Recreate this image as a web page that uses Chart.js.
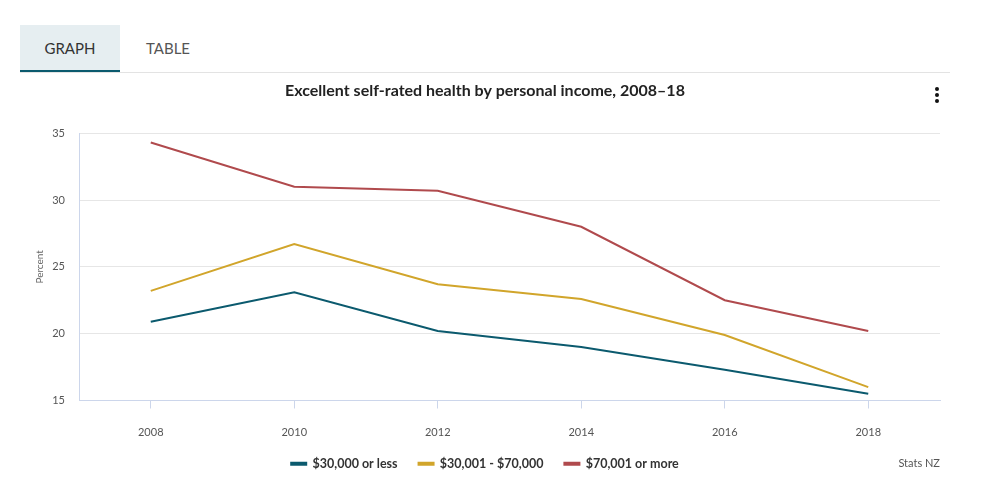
<!DOCTYPE html>
<html>
<head>
<meta charset="utf-8">
<script src="https://cdn.jsdelivr.net/npm/chart.js@4"></script>
<style>
  body { margin: 0; background: #fff; font-family: Lato, "Open Sans", sans-serif; }
  .tabs { position: absolute; left: 20px; top: 25px; width: 930px; height: 47px; border-bottom: 1px solid #e3e3e3; }
  .tab { position: absolute; top: 0; height: 46px; line-height: 46px; font-size: 15px; color: #555; text-align: center; width: 100px; }
  .tab.on { left: 0; background: #e6eef1; color: #333; border-bottom: 2px solid #0b5a6e; height: 45px; }
  .tab.off { left: 98px; }
  .menu { position: absolute; left: 935px; top: 87px; }
  .menu span { display: block; width: 4px; height: 4px; border-radius: 2px; background: #111; margin-bottom: 2px; }
  .credit { position: absolute; right: 42px; top: 456px; font-size: 11px; color: #555; }
  #wrap { position: absolute; left: 0; top: 75px; width: 982px; height: 419px; }
</style>
</head>
<body>
<div class="tabs"><div class="tab on">GRAPH</div><div class="tab off">TABLE</div></div>
<div id="wrap"><canvas id="healthChart"></canvas></div>
<div class="menu"><span></span><span></span><span></span></div>
<div class="credit">Stats NZ</div>
<script>
const years = ['2008', '2010', '2012', '2014', '2016', '2018'];
const lowIncome = [20.9, 23.1, 20.2, 19.0, 17.3, 15.5];
const midIncome = [23.2, 26.7, 23.7, 22.6, 19.9, 16.0];
const highIncome = [34.3, 31.0, 30.7, 28.0, 22.5, 20.2];
const seriesNames = ['$30,000 or less', '$30,001 - $70,000', '$70,001 or more'];
const seriesColors = ['#0b5a6e', '#d1a52b', '#b04a4d'];

const font = 'Lato, "Open Sans", sans-serif';

const ctx = document.getElementById('healthChart').getContext('2d');
const healthChart = new Chart(ctx, {
    type: 'line',
    data: {
        labels: years,
        datasets: [lowIncome, midIncome, highIncome].map((vals, i) => ({
            label: seriesNames[i],
            data: vals,
            borderColor: seriesColors[i],
            backgroundColor: seriesColors[i],
            borderWidth: 2,
            pointRadius: 0,
            tension: 0
        }))
    },
    options: {
        responsive: true,
        maintainAspectRatio: false,
        animation: false,
        layout: { padding: { left: 30, right: 42, top: 0, bottom: 14 } },
        plugins: {
            title: {
                display: true,
                text: 'Excellent self-rated health by personal income, 2008–18',
                color: '#222',
                font: { family: font, size: 16, weight: 'bold' },
                padding: { top: 6, bottom: 33 }
            },
            legend: {
                position: 'bottom',
                labels: {
                    boxWidth: 15,
                    boxHeight: 2,
                    color: '#333',
                    padding: 21,
                    font: { family: font, size: 12.5, weight: 'bold' }
                }
            },
            tooltip: { enabled: false }
        },
        scales: {
            x: {
                offset: true,
                grid: { drawOnChartArea: false, tickLength: 8, color: '#ccd6eb' },
                border: { color: '#ccd6eb' },
                ticks: { color: '#555', padding: 17, font: { family: font, size: 11 } },
                afterFit: s => { s.height = 36; }
            },
            y: {
                min: 15,
                max: 35,
                ticks: { stepSize: 5, color: '#555', padding: 14, font: { family: font, size: 11 } },
                grid: { color: '#e6e6e6', drawTicks: false },
                border: { color: '#ccd6eb' },
                title: { display: true, text: 'Percent', color: '#666', font: { family: font, size: 10 } },
                afterFit: s => { s.width = 49; }
            }
        }
    }
});
</script>
</body>
</html>
